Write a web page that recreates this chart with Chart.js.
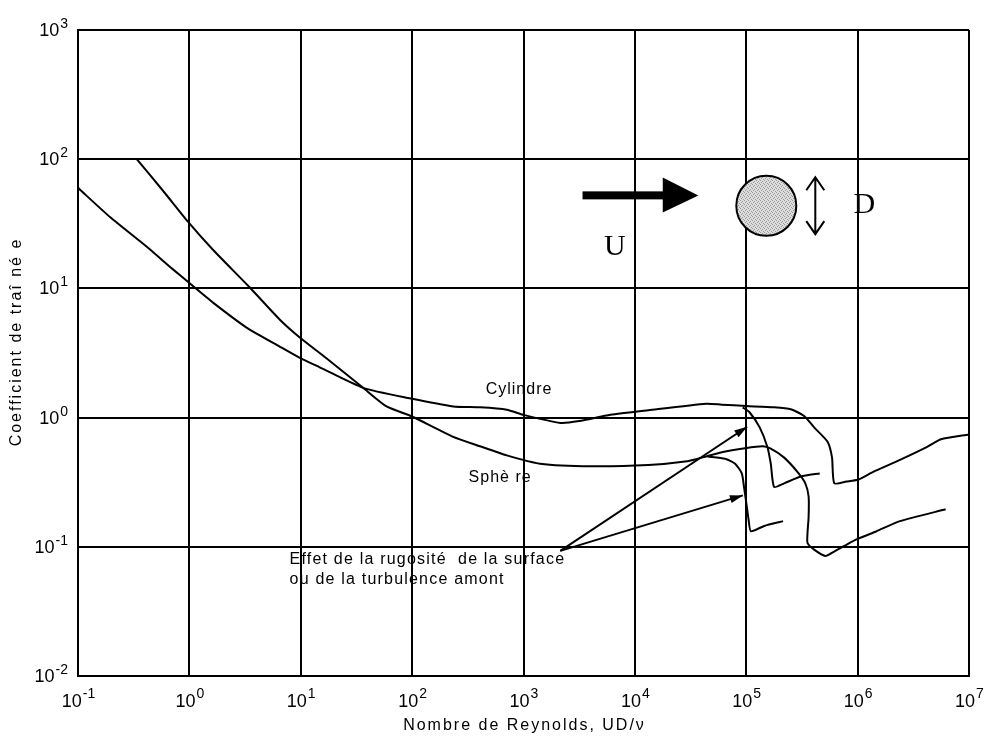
<!DOCTYPE html>
<html>
<head>
<meta charset="utf-8">
<script src="https://cdn.jsdelivr.net/npm/chart.js@4/dist/chart.umd.min.js"></script>
<style>
  html, body { margin: 0; background: #fff; }
</style>
</head>
<body>
<canvas id="chartCanvas" width="989" height="742"></canvas>
<script>
// Cylindre, courbe principale (Re, Cd)
const cylRe = [0.1, 0.195, 0.417, 0.708, 1, 1.62, 3.24, 6.46, 9.8, 14.8, 36.3, 95, 234, 407, 708, 1000,
  2140, 3160, 6030, 13200, 43600, 60300, 1e5, 178000, 251000, 331000, 407000, 537000, 589000, 617000,
  794000, 1e6, 1.38e6, 2.4e6, 4.17e6, 5.6e6, 1e7];
const cylCd = [60, 35.5, 20.9, 14.1, 11, 7.8, 5.0, 3.55, 2.9, 2.45, 1.7, 1.41, 1.22, 1.2, 1.15, 1.05,
  0.91, 0.94, 1.05, 1.14, 1.28, 1.26, 1.23, 1.2, 1.16, 1.03, 0.84, 0.65, 0.49, 0.31,
  0.32, 0.33, 0.38, 0.47, 0.59, 0.68, 0.74];

// Cylindre rugueux
const cylRoughRe = [93000, 107000, 132000, 155000, 166000, 178000, 219000, 309000, 457000];
const cylRoughCd = [1.2, 1.1, 0.84, 0.59, 0.44, 0.29, 0.31, 0.35, 0.37];

// Sphère, courbe principale
const sphRe = [0.337, 0.575, 0.966, 1.62, 3.47, 6.46, 9.8, 17, 36.3, 58.9, 100, 234, 407, 708, 1410,
  4070, 13200, 29500, 39800, 60300, 97700, 141000, 166000, 219000, 288000, 339000, 363000, 363000,
  355000, 355000, 407000, 513000, 631000, 813000, 1e6, 1.48e6, 2.4e6, 6.17e6];
const sphCd = [100, 57.5, 33, 20, 10.2, 5.75, 4.17, 2.88, 1.7, 1.22, 1.02, 0.71, 0.6, 0.51, 0.44,
  0.42, 0.43, 0.46, 0.49, 0.54, 0.58, 0.6, 0.575, 0.49, 0.38, 0.31, 0.245, 0.17,
  0.129, 0.107, 0.095, 0.085, 0.093, 0.105, 0.115, 0.132, 0.158, 0.195];

// Sphère rugueuse
const sphRoughRe = [45000, 64600, 79400, 91200, 95500, 100000, 105000, 110000, 145000, 214000];
const sphRoughCd = [0.5, 0.48, 0.44, 0.37, 0.29, 0.22, 0.162, 0.132, 0.145, 0.158];

// Flèches d'annotation : un départ commun, deux pointes
const arrowTail = { x: 2140, y: 0.093 };
const arrowHeadRe = [102000, 93300];
const arrowHeadCd = [0.85, 0.25];

const xTicks = [1e-1, 1e0, 1e1, 1e2, 1e3, 1e4, 1e5, 1e6, 1e7];
const yTicks = [1e-2, 1e-1, 1e0, 1e1, 1e2, 1e3];

const FONT = '"Liberation Sans", Arial, sans-serif';
const SERIF = '"Liberation Serif", "Times New Roman", serif';

const toPts = (xs, ys) => xs.map((x, i) => ({ x: x, y: ys[i] }));
const curve = pts => ({
  data: pts, borderColor: '#000', borderWidth: 2, pointRadius: 0, tension: 0.2, fill: false
});

const datasets = [
  curve(toPts(cylRe, cylCd)),
  curve(toPts(cylRoughRe, cylRoughCd)),
  curve(toPts(sphRe, sphCd)),
  curve(toPts(sphRoughRe, sphRoughCd))
];
arrowHeadRe.forEach((re, i) => {
  const ds = curve([arrowTail, { x: re, y: arrowHeadCd[i] }]);
  ds.tension = 0;
  datasets.push(ds);
});

function expLabel(e) { return e < 0 ? '-' + (-e) : String(e); }

const decorations = {
  id: 'decorations',
  afterDraw(chart) {
    const ctx = chart.ctx;
    const xs = chart.scales.x, ys = chart.scales.y;
    const P = (lx, ly) => [xs.getPixelForValue(Math.pow(10, lx)), ys.getPixelForValue(Math.pow(10, ly))];
    const area = chart.chartArea;
    ctx.save();
    ctx.fillStyle = '#000';
    ctx.strokeStyle = '#000';

    // graduations 10^n
    xTicks.forEach(v => {
      const e = Math.round(Math.log10(v));
      const px = xs.getPixelForValue(v);
      ctx.font = '18px ' + FONT;
      const w1 = ctx.measureText('10').width;
      ctx.font = '14px ' + FONT;
      const w2 = ctx.measureText(expLabel(e)).width;
      const x0 = px - (w1 + w2) / 2;
      ctx.textAlign = 'left';
      ctx.textBaseline = 'alphabetic';
      ctx.font = '18px ' + FONT;
      ctx.fillText('10', x0, area.bottom + 31);
      ctx.font = '14px ' + FONT;
      ctx.fillText(expLabel(e), x0 + w1 + 1, area.bottom + 22);
    });
    yTicks.forEach(v => {
      const e = Math.round(Math.log10(v));
      const py = ys.getPixelForValue(v);
      ctx.font = '14px ' + FONT;
      const w2 = ctx.measureText(expLabel(e)).width;
      ctx.textAlign = 'right';
      ctx.textBaseline = 'alphabetic';
      ctx.fillText(expLabel(e), area.left - 10, py - 2);
      ctx.font = '18px ' + FONT;
      ctx.fillText('10', area.left - 11 - w2, py + 6);
    });

    // titres des axes
    ctx.letterSpacing = '2px';
    ctx.font = '16px ' + FONT;
    ctx.textAlign = 'center';
    ctx.textBaseline = 'middle';
    ctx.fillText('Nombre de Reynolds, UD/\u03bd', (area.left + area.right) / 2 + 1, 726);
    ctx.save();
    ctx.translate(17, 342);
    ctx.rotate(-Math.PI / 2);
    ctx.fillText('Coefficient de tra\u00ee n\u00e9 e', 0, 0);
    ctx.restore();

    // étiquettes des courbes
    ctx.letterSpacing = '1px';
    let p = P(2.96, 0.217);
    ctx.fillText('Cylindre', p[0], p[1]);
    p = P(2.79, -0.464);
    ctx.fillText('Sph\u00e8 re', p[0], p[1]);
    ctx.textAlign = 'left';
    ctx.letterSpacing = '1.2px';
    p = P(0.90, -1.10);
    ctx.fillText('Effet de la rugosit\u00e9  de la surface', p[0], p[1]);
    p = P(0.90, -1.255);
    ctx.fillText('ou de la turbulence amont', p[0], p[1]);
    ctx.letterSpacing = '0px';

    // pointes des flèches d'annotation
    const t = [xs.getPixelForValue(arrowTail.x), ys.getPixelForValue(arrowTail.y)];
    arrowHeadRe.forEach((re, i) => {
      const h = [xs.getPixelForValue(re), ys.getPixelForValue(arrowHeadCd[i])];
      const a = Math.atan2(h[1] - t[1], h[0] - t[0]);
      ctx.beginPath();
      ctx.moveTo(h[0], h[1]);
      ctx.lineTo(h[0] - 13 * Math.cos(a) + 4 * Math.sin(a), h[1] - 13 * Math.sin(a) - 4 * Math.cos(a));
      ctx.lineTo(h[0] - 13 * Math.cos(a) - 4 * Math.sin(a), h[1] - 13 * Math.sin(a) + 4 * Math.cos(a));
      ctx.closePath();
      ctx.fill();
    });

    // schéma : écoulement U vers l'obstacle de diamètre D
    const s0 = P(3.53, 1.72), s1 = P(4.25, 1.72), tip = P(4.57, 1.72);
    ctx.fillRect(s0[0], s0[1] - 4, s1[0] - s0[0] + 2, 8);
    ctx.beginPath();
    ctx.moveTo(s1[0], s1[1] - 18);
    ctx.lineTo(tip[0], tip[1]);
    ctx.lineTo(s1[0], s1[1] + 17);
    ctx.closePath();
    ctx.fill();

    const c = P(5.18, 1.64);
    const pat = document.createElement('canvas');
    pat.width = 4; pat.height = 4;
    const pc = pat.getContext('2d');
    pc.fillStyle = '#dcdcdc'; pc.fillRect(0, 0, 4, 4);
    pc.fillStyle = '#9a9a9a';
    pc.fillRect(0, 0, 1, 1); pc.fillRect(2, 1, 1, 1); pc.fillRect(1, 2, 1, 1); pc.fillRect(3, 3, 1, 1);
    ctx.beginPath();
    ctx.arc(c[0], c[1], 30, 0, Math.PI * 2);
    ctx.fillStyle = ctx.createPattern(pat, 'repeat');
    ctx.fill();
    ctx.lineWidth = 2;
    ctx.stroke();
    ctx.fillStyle = '#000';

    const d0 = P(5.62, 1.86), d1 = P(5.62, 1.42);
    ctx.lineWidth = 2;
    ctx.beginPath();
    ctx.moveTo(d0[0], d0[1]); ctx.lineTo(d1[0], d1[1]);
    ctx.moveTo(d0[0] - 9, d0[1] + 13); ctx.lineTo(d0[0], d0[1]); ctx.lineTo(d0[0] + 9, d0[1] + 13);
    ctx.moveTo(d1[0] - 9, d1[1] - 13); ctx.lineTo(d1[0], d1[1]); ctx.lineTo(d1[0] + 9, d1[1] - 13);
    ctx.stroke();

    ctx.font = '30px ' + SERIF;
    ctx.textAlign = 'center';
    ctx.textBaseline = 'middle';
    p = P(6.06, 1.65);
    ctx.fillText('D', p[0], p[1] + 1);
    p = P(3.82, 1.33);
    ctx.fillText('U', p[0], p[1] + 1);
    ctx.restore();
  }
};

const ctx = document.getElementById('chartCanvas').getContext('2d');
new Chart(ctx, {
  type: 'line',
  data: { datasets: datasets },
  options: {
    responsive: false,
    devicePixelRatio: 1,
    animation: false,
    layout: { padding: { top: 30, right: 20, left: 0, bottom: 0 } },
    plugins: { legend: { display: false }, tooltip: { enabled: false } },
    scales: {
      x: {
        type: 'logarithmic', min: 0.1, max: 1e7,
        afterBuildTicks: s => { s.ticks = xTicks.map(v => ({ value: v })); },
        afterFit: s => { s.height = 66; },
        ticks: { display: false },
        grid: { color: '#000', lineWidth: 2, drawTicks: false },
        border: { color: '#000', width: 2 }
      },
      y: {
        type: 'logarithmic', min: 0.01, max: 1000,
        afterBuildTicks: s => { s.ticks = yTicks.map(v => ({ value: v })); },
        afterFit: s => { s.width = 78; },
        ticks: { display: false },
        grid: { color: '#000', lineWidth: 2, drawTicks: false },
        border: { color: '#000', width: 2 }
      }
    }
  },
  plugins: [decorations]
});
</script>
</body>
</html>
